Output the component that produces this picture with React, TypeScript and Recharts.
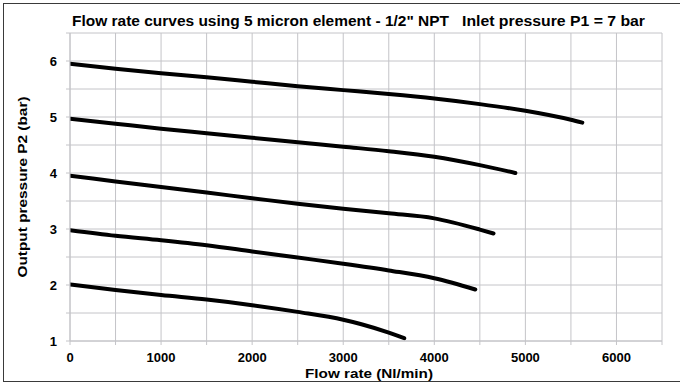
import React from 'react';
import { LineChart, Line, XAxis, YAxis, CartesianGrid, Label } from 'recharts';

// flow rate (Nl/min) and output pressure (bar) for each curve
const flow6 = [0, 500, 1000, 1500, 2000, 2500, 3000, 3500, 4000, 4500, 5000, 5500, 5625];
const p2At6 = [5.95, 5.86, 5.78, 5.71, 5.63, 5.55, 5.48, 5.41, 5.33, 5.23, 5.11, 4.95, 4.9];

const flow5 = [0, 500, 1000, 1500, 2000, 2500, 3000, 3500, 4000, 4500, 4890];
const p2At5 = [4.97, 4.88, 4.79, 4.71, 4.63, 4.55, 4.47, 4.39, 4.29, 4.14, 4.0];

const flow4 = [0, 500, 1000, 1500, 2000, 2500, 3000, 3500, 4000, 4500, 4650];
const p2At4 = [3.95, 3.85, 3.75, 3.65, 3.55, 3.45, 3.36, 3.28, 3.19, 2.99, 2.92];

const flow3 = [0, 500, 1000, 1500, 2000, 2500, 3000, 3500, 4000, 4450];
const p2At3 = [2.98, 2.88, 2.8, 2.71, 2.6, 2.49, 2.38, 2.26, 2.12, 1.92];

const flow2 = [0, 500, 1000, 1500, 2000, 2500, 3000, 3200, 3500, 3670];
const p2At2 = [2.01, 1.91, 1.82, 1.74, 1.64, 1.52, 1.38, 1.3, 1.15, 1.05];

const xTicks = [0, 500, 1000, 1500, 2000, 2500, 3000, 3500, 4000, 4500, 5000, 5500, 6000, 6500];
const yTicks = [1, 1.5, 2, 2.5, 3, 3.5, 4, 4.5, 5, 5.5, 6, 6.5];

const toPoints = (flow: number[], p2: number[]) =>
  flow.map((f, i) => ({ flow: f, p2: p2[i] }));

const curves = [
  toPoints(flow6, p2At6),
  toPoints(flow5, p2At5),
  toPoints(flow4, p2At4),
  toPoints(flow3, p2At3),
  toPoints(flow2, p2At2),
];

const font = 'Liberation Sans, Arial, Helvetica, sans-serif';
const gridColor = '#c4c4c8';
const labelStyle = { fill: '#000', fontSize: 13.5, fontWeight: 'bold', fontFamily: font };

export default function App() {
  return (
    <div
      style={{
        position: 'absolute',
        left: 0,
        top: 0,
        width: 680,
        height: 385,
        overflow: 'hidden',
        background: '#fff',
        fontFamily: font,
      }}
    >
      <div
        style={{
          position: 'absolute',
          left: 3,
          top: 3,
          width: 690,
          height: 377,
          border: '1.5px solid #3a3a3a',
        }}
      />
      <svg width={680} height={40} style={{ position: 'absolute', left: 0, top: 0 }}>
        <text
          x={72}
          y={26}
          textLength={377}
          lengthAdjust="spacingAndGlyphs"
          style={{ fill: '#000', fontSize: 14, fontWeight: 'bold', fontFamily: font }}
        >
          Flow rate curves using 5 micron element - 1/2" NPT
        </text>
        <text
          x={462}
          y={26}
          textLength={183}
          lengthAdjust="spacingAndGlyphs"
          style={{ fill: '#000', fontSize: 14, fontWeight: 'bold', fontFamily: font }}
        >
          Inlet pressure P1 = 7 bar
        </text>
      </svg>
      <LineChart
        width={680}
        height={385}
        margin={{ top: 33, right: 18, left: 0, bottom: 0 }}
        style={{ position: 'absolute', left: 0, top: 0 }}
      >
        <CartesianGrid stroke={gridColor} strokeWidth={1} />
        <XAxis
          type="number"
          dataKey="flow"
          domain={[0, 6500]}
          ticks={xTicks}
          interval={0}
          height={44}
          tickSize={4}
          tickMargin={8}
          axisLine={{ stroke: gridColor }}
          tickLine={{ stroke: gridColor }}
          tick={{ fill: '#000', fontSize: 13, fontWeight: 'bold', fontFamily: font }}
          tickFormatter={(v: number) => (v % 1000 === 0 ? String(v) : '')}
          allowDataOverflow
        >
          <Label
            value="Flow rate (Nl/min)"
            content={(props: any) => {
              const vb = props.viewBox || {};
              const cx = (vb.x ?? 70) + (vb.width ?? 592) / 2 + 3;
              return (
                <text
                  x={cx}
                  y={378}
                  textAnchor="middle"
                  textLength={128}
                  lengthAdjust="spacingAndGlyphs"
                  style={labelStyle}
                >
                  Flow rate (Nl/min)
                </text>
              );
            }}
          />
        </XAxis>
        <YAxis
          type="number"
          dataKey="p2"
          domain={[1, 6.5]}
          ticks={yTicks}
          interval={0}
          width={70}
          tickSize={4}
          tickMargin={9}
          axisLine={{ stroke: gridColor }}
          tickLine={{ stroke: gridColor }}
          tick={{ fill: '#000', fontSize: 13, fontWeight: 'bold', fontFamily: font }}
          tickFormatter={(v: number) => (Number.isInteger(v) ? String(v) : '')}
          allowDataOverflow
        >
          <Label
            value="Output pressure P2 (bar)"
            content={(props: any) => {
              const vb = props.viewBox || {};
              const cy = (vb.y ?? 33) + (vb.height ?? 308) / 2;
              return (
                <text
                  x={22}
                  y={cy}
                  transform={`rotate(-90, 22, ${cy})`}
                  textAnchor="middle"
                  dominantBaseline="central"
                  textLength={181}
                  lengthAdjust="spacingAndGlyphs"
                  style={labelStyle}
                >
                  Output pressure P2 (bar)
                </text>
              );
            }}
          />
        </YAxis>
        {curves.map((data, i) => (
          <Line
            key={i}
            data={data}
            dataKey="p2"
            type="monotone"
            stroke="#000"
            strokeWidth={4}
            strokeLinecap="round"
            dot={false}
            activeDot={false}
            isAnimationActive={false}
          />
        ))}
      </LineChart>
    </div>
  );
}
